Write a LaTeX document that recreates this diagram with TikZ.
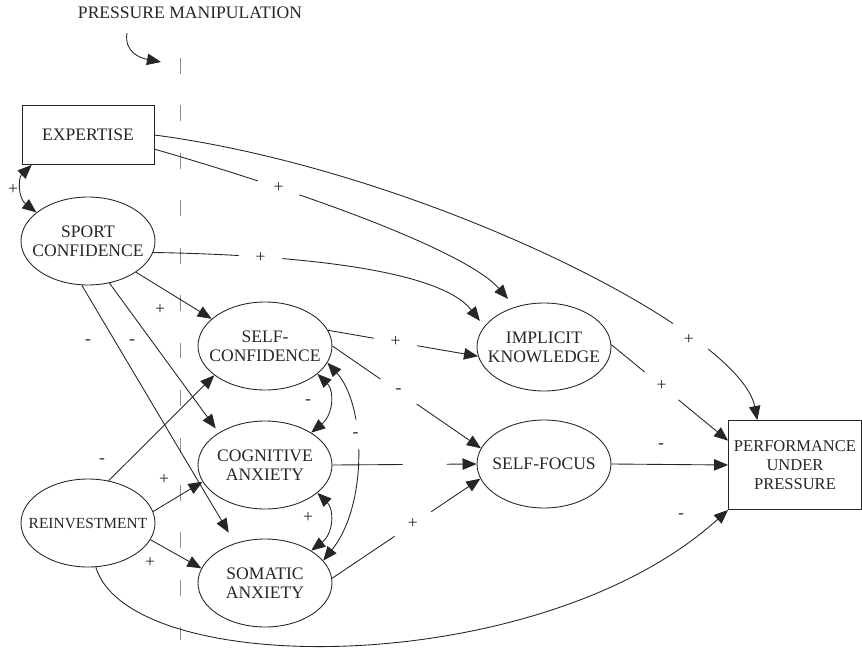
\documentclass[tikz,border=0pt]{standalone}
\usepackage{fontspec}
\setmainfont{Liberation Serif}
\usetikzlibrary{shapes.geometric,arrows.meta}

\begin{document}
\begin{tikzpicture}
[x=0.02cm,y=-0.02cm,line width=0.5pt,color=black!85,%
  every node/.style={align=center,font=\fontsize{10}{11}\selectfont},%
  box/.style={rectangle,draw,inner sep=1pt,minimum width=2.64cm,minimum height=1.18cm},%
  var/.style={ellipse,draw,inner sep=0pt,minimum width=2.68cm,minimum height=1.76cm},%
  arr/.style={-{Triangle[length=8pt,width=6.5pt]}},%
  dbl/.style={{Triangle[length=8pt,width=6.5pt]}-{Triangle[length=8pt,width=6.5pt]}},%
  gap/.style={circle,fill=white,inner sep=0pt,minimum size=25pt},%
  sgn/.style={inner sep=1pt}]
\useasboundingbox (0,0) rectangle (862,652);
\node (pm) at (190,13) {PRESSURE MANIPULATION};
\coordinate (pa) at (127,33);
\coordinate (pb) at (161,62);
\coordinate (dtop) at (180,58);
\coordinate (dbot) at (180,640);
\draw[black!45,dash pattern=on 9pt off 18pt] (dtop) -- (dbot);
\draw[arr] (pa) .. controls (124,52) and (140,58) .. (pb);
\node[box] (exp) at (88,135) {EXPERTISE};
\node[var,label={center:SPORT\\CONFIDENCE}] (sp) at (88,241) {};
\node[var,label={center:SELF-\\CONFIDENCE}] (sc) at (265,346) {};
\node[var,label={center:COGNITIVE\\ANXIETY}] (ca) at (265,465) {};
\node[var,label={center:SOMATIC\\ANXIETY}] (sa) at (265,583) {};
\node[var,label={[font=\fontsize{8.8}{11}\selectfont]center:REINVESTMENT}] (ri) at (88,523) {};
\node[var,label={center:IMPLICIT\\KNOWLEDGE}] (ik) at (544,347) {};
\node[var,label={center:SELF-FOCUS}] (sf) at (544,464) {};
\node[box,minimum width=2.66cm,minimum height=1.78cm,font=\fontsize{9.4}{10.8}\selectfont] (perf) at (795,465) {PERFORMANCE\\UNDER\\PRESSURE};
\draw[dbl] (exp.208) .. controls (18,178) and (18,198) .. (sp.151);
\draw[arr] (exp.east) .. controls (420,170) and (740,330) .. (perf.130) node[gap,pos=.74] {+};
\draw[arr,shorten >=6pt] (exp.-12) .. controls (330,200) and (470,255) .. (ik.126) node[gap,pos=.25] {+};
\draw[arr,shorten >=4pt] (sp.-10) .. controls (300,255) and (440,270) .. (ik.161) node[gap,pos=.25] {+};
\draw[arr] (sp.-33) -- (sc.153);
\draw[arr,shorten >=3pt] (sp.-63) -- (ca.145);
\draw[arr,shorten >=7pt] (sp.-98) -- (sa.127);
\draw[arr] (ri.64) -- (sc.210);
\draw[arr] (ri.10) -- (ca.195);
\draw[arr] (ri.-15) -- (sa.167);
\draw[arr] (ri.-80) .. controls (130,680) and (540,680) .. (perf.south west);
\draw[dbl] (sc.-28) .. controls (334,390) and (334,414) .. (ca.35);
\draw[dbl] (ca.-28) .. controls (334,509) and (334,533) .. (sa.35);
\draw[arr] (ca.east) -- (sf.west) node[gap,pos=.64] {};
\draw[dbl] (sa.21) .. controls (368,505) and (366,405) .. (sc.-15) node[gap,minimum size=17pt,pos=.6] {-};
\draw[arr] (sc.14) -- (ik.188) node[gap,pos=.45] {+};
\draw[arr] (sc.east) -- (sf.166) node[gap,pos=.445] {-};
\draw[arr] (sa.4) -- (sf.193) node[gap,pos=.545] {+};
\draw[arr] (ik.2) -- (perf.160) node[gap,pos=.43] {+};
\draw[arr] (sf.east) -- (perf.west);
\node[sgn] (l1) at (13,190) {+};
\node[sgn] (l2) at (160,310) {+};
\node[sgn] (l3) at (132,342) {-};
\node[sgn] (l4) at (88,342) {-};
\node[sgn] (l5) at (102,461) {-};
\node[sgn] (l6) at (164,480) {+};
\node[sgn] (l7) at (150,563) {+};
\node[sgn] (l8) at (308,402) {-};
\node[sgn] (l9) at (308,518) {+};
\node[sgn] (l10) at (661,446) {-};
\node[sgn] (l11) at (681,516) {-};
\end{tikzpicture}
\end{document}
